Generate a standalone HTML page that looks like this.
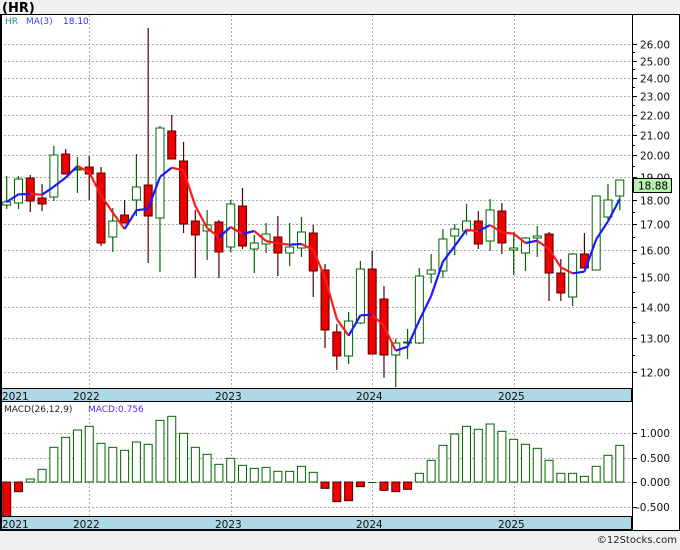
<!DOCTYPE html><html><head><style>
body{margin:0;width:680px;height:546px;background:#f0f0f0;font-family:"DejaVu Sans","Liberation Sans",sans-serif;overflow:hidden}
</style></head><body>
<svg id="s" width="680" height="546" xmlns="http://www.w3.org/2000/svg" font-family="DejaVu Sans, Liberation Sans, sans-serif">
<rect x="0" y="0" width="680" height="546" fill="#f0f0f0"/>
<text x="2" y="12" font-size="13" font-weight="bold" fill="#000">(HR)</text>
<rect x="0.5" y="14.5" width="679" height="516" fill="#fff" stroke="#000"/>
<g id="g"></g>
<text x="5" y="24" font-size="9" fill="#2a8a8a">HR</text>
<text x="26" y="24" font-size="9" fill="#3344ee">MA(3)</text>
<text x="63" y="24" font-size="9" fill="#2233ee">18.10</text>
<text x="4" y="412" font-size="9" fill="#222">MACD(26,12,9)</text>
<text x="88" y="412" font-size="9" fill="#4433ee">MACD:0.756</text>
<text x="677" y="543" font-size="10" fill="#222" text-anchor="end">©12Stocks.com</text>
</svg>
<script>
var g=document.getElementById('g'),h='';
function ln(x1,y1,x2,y2,c,w,d){h+='<line x1="'+x1+'" y1="'+y1+'" x2="'+x2+'" y2="'+y2+'" stroke="'+c+'" stroke-width="'+(w||1)+'"'+(d?' stroke-dasharray="'+d+'"':'')+'/>';}
function tx(x,y,t,a){h+='<text x="'+x+'" y="'+y+'" font-size="10.5" fill="#111"'+(a?' text-anchor="'+a+'"':'')+'>'+t+'</text>';}
function py(p){return 44+(Math.log(26)-Math.log(p))/(Math.log(26)-Math.log(12))*328;}
for(var p=12;p<=26;p++){var y=Math.round(py(p))+.5;ln(0,y,632,y,'#aaa',1,'2,2');ln(632,y,637,y,'#000');tx(640,y+4,p.toFixed(2));var y2=Math.round(py(p+.5))+.5;if(p<26)ln(632,y2,635,y2,'#000');}
var yrs=[[89,'2022'],[231,'2023'],[372,'2024'],[514,'2025']];
yrs.forEach(function(a){ln(a[0]+.5,15,a[0]+.5,388,'#aaa',1,'2,2');ln(a[0]+.5,402,a[0]+.5,516,'#aaa',1,'2,2');});
[[433,'1.000'],[458,'0.500'],[482,'0.000'],[507,'-0.500']].forEach(function(a){ln(0,a[0]+.5,632,a[0]+.5,'#aaa',1,'2,2');ln(632,a[0]+.5,637,a[0]+.5,'#000');tx(a[1][0]=='-'?636:640,a[0]+4,a[1]);});
var c=[[202,205,176,209,1],[179,203,176,209,1],[178,201,175,212,0],[198,204,184,211,0],[155,197,146,201,1],[154,174,149,174,0],[169,170,157,193,1],[167,174,156,200,0],[173,243,167,246,0],[221,237,208,252,1],[215,223,200,223,0],[187,200,154,216,1],[185,216,28,263,0],[128,218,126,272,1],[131,159,115,159,0],[161,224,142,233,0],[221,235,210,278,0],[225,231,210,260,1],[222,252,220,278,0],[204,247,200,252,1],[206,246,188,249,0],[243,249,235,273,1],[234,244,223,253,1],[237,253,216,276,0],[247,253,223,266,1],[232,248,217,257,1],[233,271,225,297,0],[270,330,264,348,0],[332,356,324,370,0],[321,356,312,364,1],[269,323,261,324,1],[269,354,251,354,0],[299,355,286,378,0],[343,355,339,387,1],[342,343,329,359,1],[276,343,268,344,1],[270,274,254,283,1],[239,271,229,278,1],[229,236,224,255,1],[221,231,204,235,1],[221,244,211,249,0],[210,241,199,251,1],[211,243,203,254,0],[248,250,232,275,1],[238,253,237,271,1],[236,238,226,257,1],[234,273,232,301,0],[273,293,259,301,0],[254,297,253,306,1],[254,268,233,268,0],[196,270,196,270,1],[200,217,184,220,1],[180,196,180,210,1]];
var cl=c.map(function(d){return d[4]?d[0]:d[1];}),pts=[];
for(var i=0;i<c.length;i++){var a=cl[Math.max(0,i-2)],b=cl[Math.max(0,i-1)];pts.push((a+b+cl[i])/3);}
pts[pts.length-1]=199;
var xs=function(i){return 6.7+11.79*i;};
c.forEach(function(d,i){var x=xs(i),col=d[4]?'#006600':'#550000';ln(x,d[2],x,d[3],col,1.2);
h+='<rect x="'+(x-4)+'" y="'+d[0]+'" width="8" height="'+Math.max(1,d[1]-d[0])+'" fill="'+(d[4]?'#fff':'#ee0000')+'" stroke="'+col+'" stroke-width="1"/>';});
for(var i=1;i<pts.length;i++){ln(xs(i-1),pts[i-1],xs(i),pts[i],pts[i]<pts[i-1]?'#1a1aff':'#ff1a1a',2.2);}
var m=[400,335,297,268,202,172,150,139,190,202,211,186,193,121,109,160,202,223,253,235,256,265,262,274,274,259,277,325,365,362,320,307,331,335,328,280,241,196,162,139,148,132,154,178,193,205,241,280,280,289,259,226,196];
m.forEach(function(v,i){var y=380+v/3,x=xs(i);if(i==0)y=520;var t=Math.min(482,y),b=Math.max(482,y);var pos=y<482;
if(b-t<1)return ln(x-4,482.5,x+4,482.5,'#006600');
h+='<rect x="'+(x-4)+'" y="'+t+'" width="8" height="'+(b-t)+'" fill="'+(pos?'#fff':'#ee0000')+'" stroke="'+(pos?'#006600':'#550000')+'"/>';});
[388,516].forEach(function(y){h+='<rect x="0.5" y="'+(y+.5)+'" width="631" height="13" fill="#add8e6" stroke="#000"/>';tx(2,y+12,'2021');yrs.forEach(function(a){tx(a[0]-16,y+12,a[1]);});});
h+='<rect x="0" y="14" width="2" height="516" fill="#000"/>';
ln(632.5,14,632.5,531,'#000');
h+='<rect x="633.5" y="178.5" width="38" height="14" fill="#b8f0b0" stroke="#000"/>';
h+='<text x="638" y="189.5" font-size="10.5" fill="#000">18.88</text>';
g.innerHTML=h;
</script>
</body></html>
